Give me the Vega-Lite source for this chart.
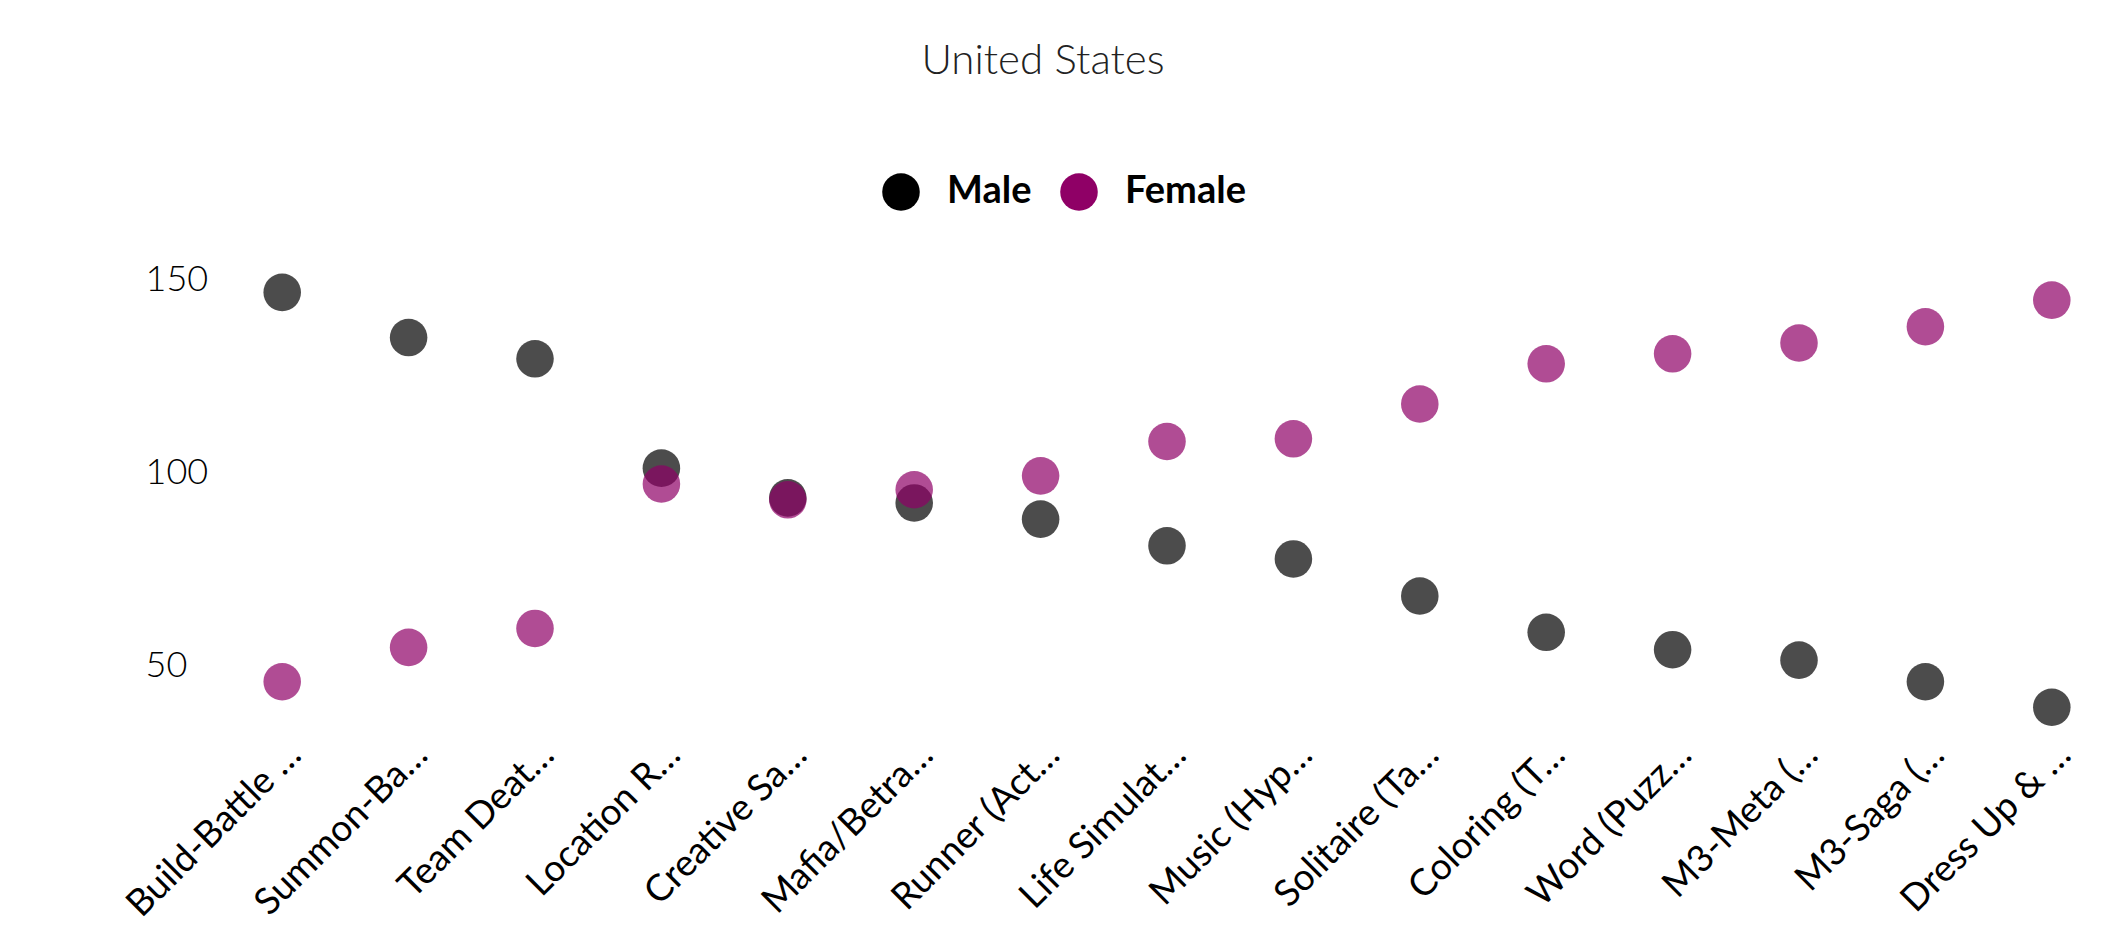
{
  "$schema": "https://vega.github.io/schema/vega-lite/v6.json",
  "autosize": {"type": "none"},
  "width": 1896,
  "height": 479,
  "padding": {"left": 219, "top": 241, "right": 10, "bottom": 210},
  "background": "white",
  "title": {"text": "United States", "font": "Lato", "fontWeight": 300, "fontSize": 42, "color": "#222222", "anchor": "middle", "frame": "group", "dx": -124, "offset": 90},
  "data": {"values": [
    {"game": "Build-Battle …", "gender": "Male", "value": 146.7},
    {"game": "Summon-Ba…", "gender": "Male", "value": 135.0},
    {"game": "Team Deat…", "gender": "Male", "value": 129.5},
    {"game": "Location R…", "gender": "Male", "value": 101.2},
    {"game": "Creative Sa…", "gender": "Male", "value": 93.5},
    {"game": "Mafia/Betra…", "gender": "Male", "value": 92.2},
    {"game": "Runner (Act…", "gender": "Male", "value": 88.0},
    {"game": "Life Simulat…", "gender": "Male", "value": 81.1},
    {"game": "Music (Hyp…", "gender": "Male", "value": 77.7},
    {"game": "Solitaire (Ta…", "gender": "Male", "value": 68.1},
    {"game": "Coloring (T…", "gender": "Male", "value": 58.7},
    {"game": "Word (Puzz…", "gender": "Male", "value": 54.2},
    {"game": "M3-Meta (…", "gender": "Male", "value": 51.5},
    {"game": "M3-Saga (…", "gender": "Male", "value": 45.9},
    {"game": "Dress Up & …", "gender": "Male", "value": 39.3},
    {"game": "Build-Battle …", "gender": "Female", "value": 45.9},
    {"game": "Summon-Ba…", "gender": "Female", "value": 54.8},
    {"game": "Team Deat…", "gender": "Female", "value": 59.7},
    {"game": "Location R…", "gender": "Female", "value": 97.1},
    {"game": "Creative Sa…", "gender": "Female", "value": 93.0},
    {"game": "Mafia/Betra…", "gender": "Female", "value": 95.6},
    {"game": "Runner (Act…", "gender": "Female", "value": 99.2},
    {"game": "Life Simulat…", "gender": "Female", "value": 108.1},
    {"game": "Music (Hyp…", "gender": "Female", "value": 108.8},
    {"game": "Solitaire (Ta…", "gender": "Female", "value": 117.8},
    {"game": "Coloring (T…", "gender": "Female", "value": 128.2},
    {"game": "Word (Puzz…", "gender": "Female", "value": 130.8},
    {"game": "M3-Meta (…", "gender": "Female", "value": 133.6},
    {"game": "M3-Saga (…", "gender": "Female", "value": 137.8},
    {"game": "Dress Up & …", "gender": "Female", "value": 144.7}
  ]},
  "mark": {"type": "circle", "size": 1410, "opacity": 0.7},
  "encoding": {
    "x": {
      "field": "game", "type": "nominal", "sort": null,
      "scale": {"type": "point", "padding": 0.5},
      "axis": {"title": null, "labelAngle": -45, "labelFont": "Lato", "labelFontSize": 37, "labelColor": "#000000", "labelLimit": 600, "ticks": false, "tickSize": 0, "domain": false, "grid": false, "labelPadding": 16}
    },
    "y": {
      "field": "value", "type": "quantitative",
      "scale": {"domain": [36, 160], "nice": false, "zero": false},
      "axis": {"title": null, "values": [50, 100, 150], "labelAlign": "left", "labelPadding": 74, "tickSize": 0, "ticks": false, "domain": false, "grid": false, "labelFont": "Lato", "labelFontSize": 36, "labelFontWeight": 300, "labelColor": "#000000"}
    },
    "color": {
      "field": "gender", "type": "nominal",
      "scale": {"domain": ["Male", "Female"], "range": ["#000000", "#8f0066"]},
      "legend": {"title": null, "orient": "none", "legendX": 663, "legendY": -68, "direction": "horizontal", "symbolType": "circle", "symbolSize": 1410, "symbolOpacity": 1, "symbolStrokeWidth": 0, "labelFont": "Lato", "labelFontSize": 38, "labelFontWeight": "bold", "labelColor": "#000000", "labelOffset": 27, "columnPadding": 28, "padding": 0}
    }
  },
  "config": {"view": {"stroke": null}}
}
